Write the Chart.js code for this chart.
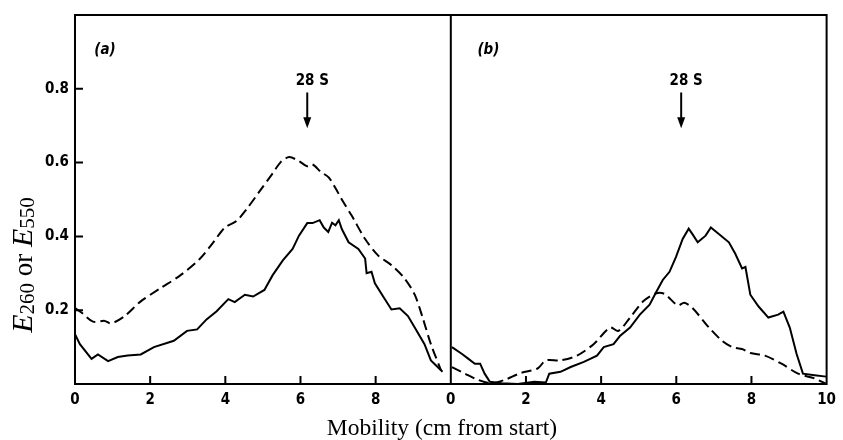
<!DOCTYPE html>
<html>
<head>
<meta charset="utf-8">
<script src="https://cdn.jsdelivr.net/npm/chart.js@4.4.1/dist/chart.umd.min.js"></script>
<style>
  html, body { margin: 0; padding: 0; background: #fff; }
</style>
</head>
<body>
<canvas id="myChart" width="843" height="440"></canvas>
<script>
        // panel (a)
        const solidAX = [0, 0.13, 0.44, 0.61, 0.88, 1.14, 1.4, 1.75, 2.1, 2.63, 2.98, 3.25, 3.5, 3.77, 4.08, 4.25, 4.52, 4.74, 5.04, 5.26, 5.53, 5.79, 5.96, 6.18, 6.32, 6.51, 6.62, 6.74, 6.84, 6.93, 7.02, 7.1, 7.28, 7.54, 7.72, 7.76, 7.89, 7.98, 8.2, 8.42, 8.64, 8.86, 9.04, 9.3, 9.47, 9.65, 9.78];
        const solidAY = [0.135, 0.108, 0.068, 0.08, 0.062, 0.073, 0.077, 0.08, 0.1, 0.117, 0.144, 0.148, 0.175, 0.197, 0.23, 0.222, 0.242, 0.237, 0.255, 0.295, 0.335, 0.366, 0.402, 0.436, 0.436, 0.444, 0.424, 0.412, 0.437, 0.43, 0.444, 0.42, 0.384, 0.366, 0.34, 0.3, 0.304, 0.273, 0.237, 0.202, 0.205, 0.184, 0.153, 0.108, 0.064, 0.046, 0.033];
        const dashAX = [0, 0.18, 0.48, 0.79, 0.96, 1.32, 1.75, 2.28, 2.81, 3.33, 3.68, 3.99, 4.3, 4.56, 4.91, 5.26, 5.48, 5.7, 5.96, 6.18, 6.32, 6.54, 6.75, 6.93, 7.1, 7.37, 7.72, 8.07, 8.42, 8.77, 9.04, 9.25, 9.47, 9.74];
        const dashAY = [0.206, 0.193, 0.169, 0.171, 0.164, 0.184, 0.224, 0.26, 0.295, 0.34, 0.384, 0.424, 0.442, 0.473, 0.522, 0.571, 0.602, 0.615, 0.604, 0.59, 0.595, 0.575, 0.56, 0.531, 0.5, 0.455, 0.393, 0.348, 0.322, 0.286, 0.242, 0.18, 0.108, 0.037];

        // panel (b)
        const solidBX = [0.03, 0.29, 0.47, 0.64, 0.78, 0.9, 1.04, 1.35, 1.78, 2.22, 2.53, 2.62, 2.92, 3.19, 3.54, 3.89, 4.07, 4.33, 4.5, 4.77, 5.03, 5.29, 5.47, 5.64, 5.82, 5.99, 6.17, 6.33, 6.43, 6.57, 6.78, 6.92, 7.14, 7.4, 7.57, 7.75, 7.84, 7.97, 8.19, 8.45, 8.71, 8.85, 9.02, 9.2, 9.37, 9.68, 9.99];
        const solidBY = [0.1, 0.082, 0.068, 0.055, 0.055, 0.028, 0.006, 0.002, 0, 0.006, 0.004, 0.028, 0.033, 0.046, 0.06, 0.077, 0.1, 0.108, 0.13, 0.153, 0.188, 0.215, 0.25, 0.282, 0.304, 0.344, 0.393, 0.421, 0.406, 0.384, 0.402, 0.424, 0.406, 0.384, 0.353, 0.313, 0.317, 0.242, 0.21, 0.18, 0.188, 0.196, 0.153, 0.082, 0.028, 0.024, 0.02];
        const dashBX = [0.03, 0.38, 0.73, 1.08, 1.43, 1.87, 2.31, 2.53, 2.92, 3.36, 3.8, 4.24, 4.46, 4.77, 5.12, 5.47, 5.69, 6.04, 6.21, 6.43, 6.87, 7.22, 7.49, 7.75, 7.97, 8.36, 8.8, 9.24, 9.68, 9.99];
        const dashBY = [0.046, 0.028, 0.011, 0.002, 0.011, 0.03, 0.042, 0.064, 0.064, 0.077, 0.108, 0.153, 0.144, 0.18, 0.224, 0.246, 0.244, 0.213, 0.22, 0.206, 0.153, 0.117, 0.1, 0.095, 0.084, 0.077, 0.055, 0.028, 0.015, 0];

        const xTicks = [0, 2, 4, 6, 8, 10, 12, 14, 16, 18, 20];
        const yTicks = [0.2, 0.4, 0.6, 0.8];
        const panelLabels = ['(a)', '(b)'];
        const markerX = [6.18, 16.13];   // 28 S arrows, panel b shifted by 10
        const panelB = 10;

        function pts(xs, ys, shift) {
          return xs.map((x, i) => ({ x: x + shift, y: ys[i] }));
        }

        const font = '"DejaVu Sans Condensed", "DejaVu Sans", sans-serif';
        const serif = '"Liberation Serif", "DejaVu Serif", serif';

        const line = (d, dashed) => ({
          data: d,
          borderColor: '#000',
          borderWidth: 2,
          borderDash: dashed ? [10, 5] : [],
          pointRadius: 0,
          tension: dashed ? 0.3 : 0,
          fill: false
        });

        const decor = {
          id: 'decor',
          afterDraw(chart) {
            const ctx = chart.ctx;
            const a = chart.chartArea;
            const xs = chart.scales.x, ys = chart.scales.y;
            ctx.save();
            ctx.strokeStyle = '#000';
            ctx.fillStyle = '#000';
            ctx.lineWidth = 2;
            ctx.setLineDash([]);
            ctx.strokeRect(a.left, a.top, a.right - a.left, a.bottom - a.top);
            const mid = xs.getPixelForValue(panelB);
            ctx.beginPath();
            ctx.moveTo(mid, a.top); ctx.lineTo(mid, a.bottom);
            // inward ticks
            xTicks.forEach(v => {
              if (v === 0 || v === panelB || v === 20) return;
              const px = xs.getPixelForValue(v);
              ctx.moveTo(px, a.bottom); ctx.lineTo(px, a.bottom - 8);
            });
            yTicks.forEach(v => {
              const py = ys.getPixelForValue(v);
              ctx.moveTo(a.left, py); ctx.lineTo(a.left + 8, py);
            });
            ctx.stroke();

            // panel labels
            ctx.font = 'italic bold 15px ' + font;
            ctx.textAlign = 'center';
            ctx.textBaseline = 'middle';
            ctx.fillText(panelLabels[0], xs.getPixelForValue(0.8), ys.getPixelForValue(0.905));
            ctx.fillText(panelLabels[1], xs.getPixelForValue(panelB + 1.0), ys.getPixelForValue(0.905));

            // 28 S arrows
            markerX.forEach(v => {
              const px = xs.getPixelForValue(v);
              const top = ys.getPixelForValue(0.79);
              const tip = ys.getPixelForValue(0.693);
              ctx.font = 'bold 15px ' + font;
              ctx.fillText('28 S', px + 5, ys.getPixelForValue(0.82));
              ctx.beginPath();
              ctx.moveTo(px, top); ctx.lineTo(px, tip - 8);
              ctx.stroke();
              ctx.beginPath();
              ctx.moveTo(px - 4, tip - 11); ctx.lineTo(px + 4, tip - 11); ctx.lineTo(px, tip);
              ctx.closePath();
              ctx.fill();
            });

            // x title
            ctx.font = '23.5px ' + serif;
            ctx.textBaseline = 'alphabetic';
            ctx.fillText('Mobility (cm from start)', 442, 435);

            // y title with italic E and subscripts
            const parts = [
              ['E', 'italic 30px ' + serif, 0],
              ['260', '21px ' + serif, 2],
              [' or ', '27px ' + serif, 0],
              ['E', 'italic 30px ' + serif, 0],
              ['550', '21px ' + serif, 2]
            ];
            let total = 0;
            parts.forEach(p => { ctx.font = p[1]; total += ctx.measureText(p[0]).width; });
            ctx.translate(22, 265);
            ctx.rotate(-Math.PI / 2);
            ctx.textAlign = 'left';
            let cx = -total / 2;
            parts.forEach(p => {
              ctx.font = p[1];
              ctx.fillText(p[0], cx, 10 + p[2]);
              cx += ctx.measureText(p[0]).width;
            });
            ctx.restore();
          }
        };

        const config = {
          type: 'line',
          data: {
            datasets: [
              line(pts(solidAX, solidAY, 0), false),
              line(pts(dashAX, dashAY, 0), true),
              line(pts(solidBX, solidBY, panelB), false),
              line(pts(dashBX, dashBY, panelB), true)
            ]
          },
          options: {
            responsive: false,
            animation: false,
            layout: { padding: { left: 0, right: 8, top: 7, bottom: 0 } },
            plugins: { legend: { display: false }, tooltip: { enabled: false } },
            scales: {
              x: {
                type: 'linear',
                min: 0,
                max: 20,
                grid: { display: false, drawTicks: false },
                border: { display: false },
                afterBuildTicks: s => { s.ticks = xTicks.map(v => ({ value: v })); },
                afterFit: s => { s.height = 56; },
                ticks: {
                  autoSkip: false,
                  maxRotation: 0,
                  padding: 7,
                  color: '#000',
                  font: { family: font, size: 15, weight: 'bold' },
                  callback: v => (v === 20 ? '10' : String(v % panelB))
                }
              },
              y: {
                min: 0,
                max: 1.0,
                grid: { display: false, drawTicks: false },
                border: { display: false },
                afterBuildTicks: s => { s.ticks = yTicks.map(v => ({ value: v })); },
                afterFit: s => { s.width = 75; },
                ticks: {
                  padding: 6,
                  color: '#000',
                  font: { family: font, size: 15, weight: 'bold' },
                  callback: v => v.toFixed(1)
                }
              }
            }
          },
          plugins: [decor]
        };

        const myChart = new Chart(document.getElementById('myChart'), config);
</script>
</body>
</html>
